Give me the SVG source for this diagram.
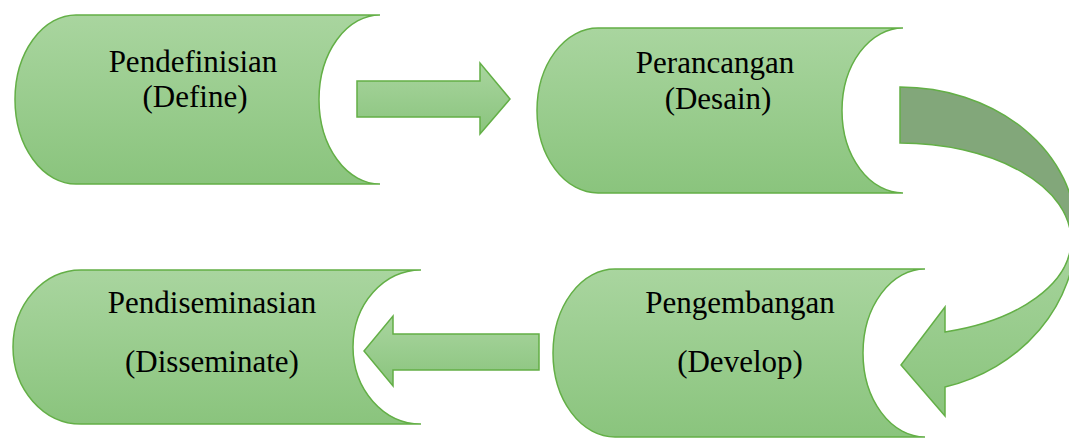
<svg xmlns="http://www.w3.org/2000/svg" width="1069" height="438" viewBox="0 0 1069 438">
  <defs>
    <linearGradient id="gf" x1="0" y1="0" x2="0" y2="1">
      <stop offset="0" stop-color="#A9D59F"/>
      <stop offset="1" stop-color="#8AC47D"/>
    </linearGradient>
    <style>
      .shape { fill: url(#gf); stroke: #63AF46; stroke-width: 1.5; stroke-linejoin: miter; }
      .back { fill: #82A77A; stroke: #63AF46; stroke-width: 1.5; }
      .lbl { font-family: "Liberation Serif", "Times New Roman", serif; font-size: 31px; fill: #000; text-anchor: middle; }
    </style>
  </defs>
  <rect width="1069" height="438" fill="#FFFFFF"/>

  <g id="node-define">
    <path class="shape" d="M76,15 L380,15 A61,84.5 0 0 0 380,184 L76,184 A61,84.5 0 0 1 76,15 Z"/>
    <text class="lbl" x="193" y="72">Pendefinisian</text>
    <text class="lbl" x="195" y="107">(Define)</text>
  </g>

  <g id="node-desain">
    <path class="shape" d="M598,28 L903,28 A61,82.5 0 0 0 903,193 L598,193 A61,82.5 0 0 1 598,28 Z"/>
    <text class="lbl" x="715" y="73">Perancangan</text>
    <text class="lbl" x="718" y="109">(Desain)</text>
  </g>

  <g id="node-develop">
    <path class="shape" d="M615,269 L925,269 A62,84 0 0 0 925,437 L615,437 A62,84 0 0 1 615,269 Z"/>
    <text class="lbl" x="740" y="313">Pengembangan</text>
    <text class="lbl" x="740" y="372">(Develop)</text>
  </g>

  <g id="node-disseminate">
    <path class="shape" d="M81,270 L421,270 A68,77 0 0 0 421,424 L81,424 A68,77 0 0 1 81,270 Z"/>
    <text class="lbl" x="212" y="313">Pendiseminasian</text>
    <text class="lbl" x="212" y="372">(Disseminate)</text>
  </g>

  <g id="connectors">
    <path class="shape" d="M357,81 L480,81 L480,63 L510,99 L480,134 L480,117 L357,117 Z"/>
    <path class="back" d="M900,87 A176,145 0 0 1 1076,232 L1071,240 A171,97 0 0 0 900,143 Z"/>
    <path class="shape" d="M1076,232 A176,160 0 0 1 945,387 L945,416 L901,365 L945,307 L945,332 A171,95 0 0 0 1071,240 Z"/>
    <path class="shape" d="M539,334 L393,334 L393,316 L364,351 L393,386 L393,370 L539,370 Z"/>
  </g>
</svg>
